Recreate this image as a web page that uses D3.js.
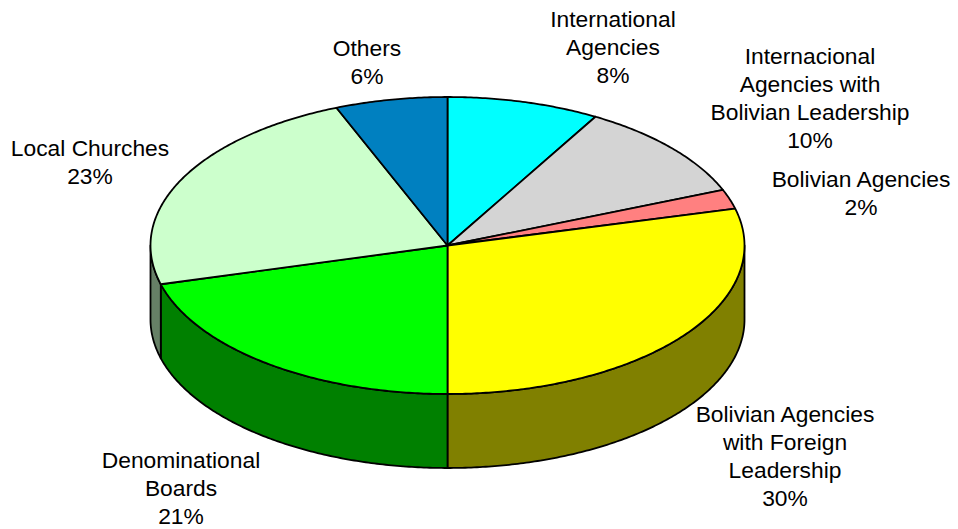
<!DOCTYPE html>
<html><head><meta charset="utf-8">
<script src="https://cdn.jsdelivr.net/npm/d3@7"></script>
<style>html,body{margin:0;background:#fff}svg{display:block}text{font-family:"Liberation Sans",Arial,sans-serif;font-size:22.8px;fill:#000}</style>
</head><body><svg id="c" width="958" height="529"></svg>
<script>
const categories=["International Agencies","Internacional Agencies with Bolivian Leadership","Bolivian Agencies","Bolivian Agencies with Foreign Leadership","Denominational Boards","Local Churches","Others"];
const sliceValues=[8.3,10.6,2.1,29.0,20.8,23.1,6.1];
const percentLabels=["8%","10%","2%","30%","21%","23%","6%"];
const topColors=["#00ffff","#d4d4d4","#ff8080","#ffff00","#00ff00","#ccffcc","#0080c0"];
const sideColors=["#008080","#6a6a6a","#804040","#808000","#008000","#668066","#004060"];
const labelLines=[["International","Agencies"],["Internacional","Agencies with","Bolivian Leadership"],["Bolivian Agencies"],["Bolivian Agencies","with Foreign","Leadership"],["Denominational","Boards"],["Local Churches"],["Others"]];
const labelAnchors=[[613,27],[810,64],[861,187],[785,422],[181,468],[90,156],[367,56]];
const svg=d3.select("#c");
const cx=447.5,cy=245.5,rx=297,ry=148.5,depth=74;
const px=d3.scaleLinear().domain([-1,1]).range([cx-rx,cx+rx]);
const py=d3.scaleLinear().domain([-1,1]).range([cy-ry,cy+ry]);
const pie=d3.pie().sort(null).value(d=>d).startAngle(0).endAngle(2*Math.PI);
const arcs=pie(sliceValues);
const X=a=>px(Math.sin(a)),Y=a=>py(-Math.cos(a));
const samples=(a,b)=>{const n=Math.max(2,Math.ceil((b-a)/0.01));return d3.range(n+1).map(i=>a+(b-a)*i/n);};
const line=d3.line().x(d=>d[0]).y(d=>d[1]);
const sides=[];
arcs.forEach((d,i)=>{
  const a=Math.max(d.startAngle,Math.PI/2),b=Math.min(d.endAngle,3*Math.PI/2);
  if(b>a)sides.push({a,b,i});
});
svg.append("g").selectAll("path").data(sides).join("path")
 .attr("d",s=>{const t=samples(s.a,s.b);
   const top=t.map(v=>[X(v),Y(v)]);
   const bot=t.slice().reverse().map(v=>[X(v),Y(v)+depth]);
   return line(top.concat(bot))+"Z";})
 .attr("fill",s=>sideColors[s.i]).attr("stroke","#000").attr("stroke-width",1.8).attr("stroke-linejoin","round");
svg.append("g").selectAll("path").data(arcs).join("path")
 .attr("d",d=>{const t=samples(d.startAngle,d.endAngle);
   return line([[cx,cy]].concat(t.map(v=>[X(v),Y(v)])))+"Z";})
 .attr("fill",(d,i)=>topColors[i]).attr("stroke","#000").attr("stroke-width",1.8).attr("stroke-linejoin","round");
const lg=svg.append("g").attr("text-anchor","middle");
categories.forEach((c,i)=>{
  const t=lg.append("text").attr("x",labelAnchors[i][0]).attr("y",labelAnchors[i][1]);
  labelLines[i].concat([percentLabels[i]]).forEach((s,j)=>{
    t.append("tspan").attr("x",labelAnchors[i][0]).attr("y",labelAnchors[i][1]+j*28).text(s);
  });
});
</script></body></html>
